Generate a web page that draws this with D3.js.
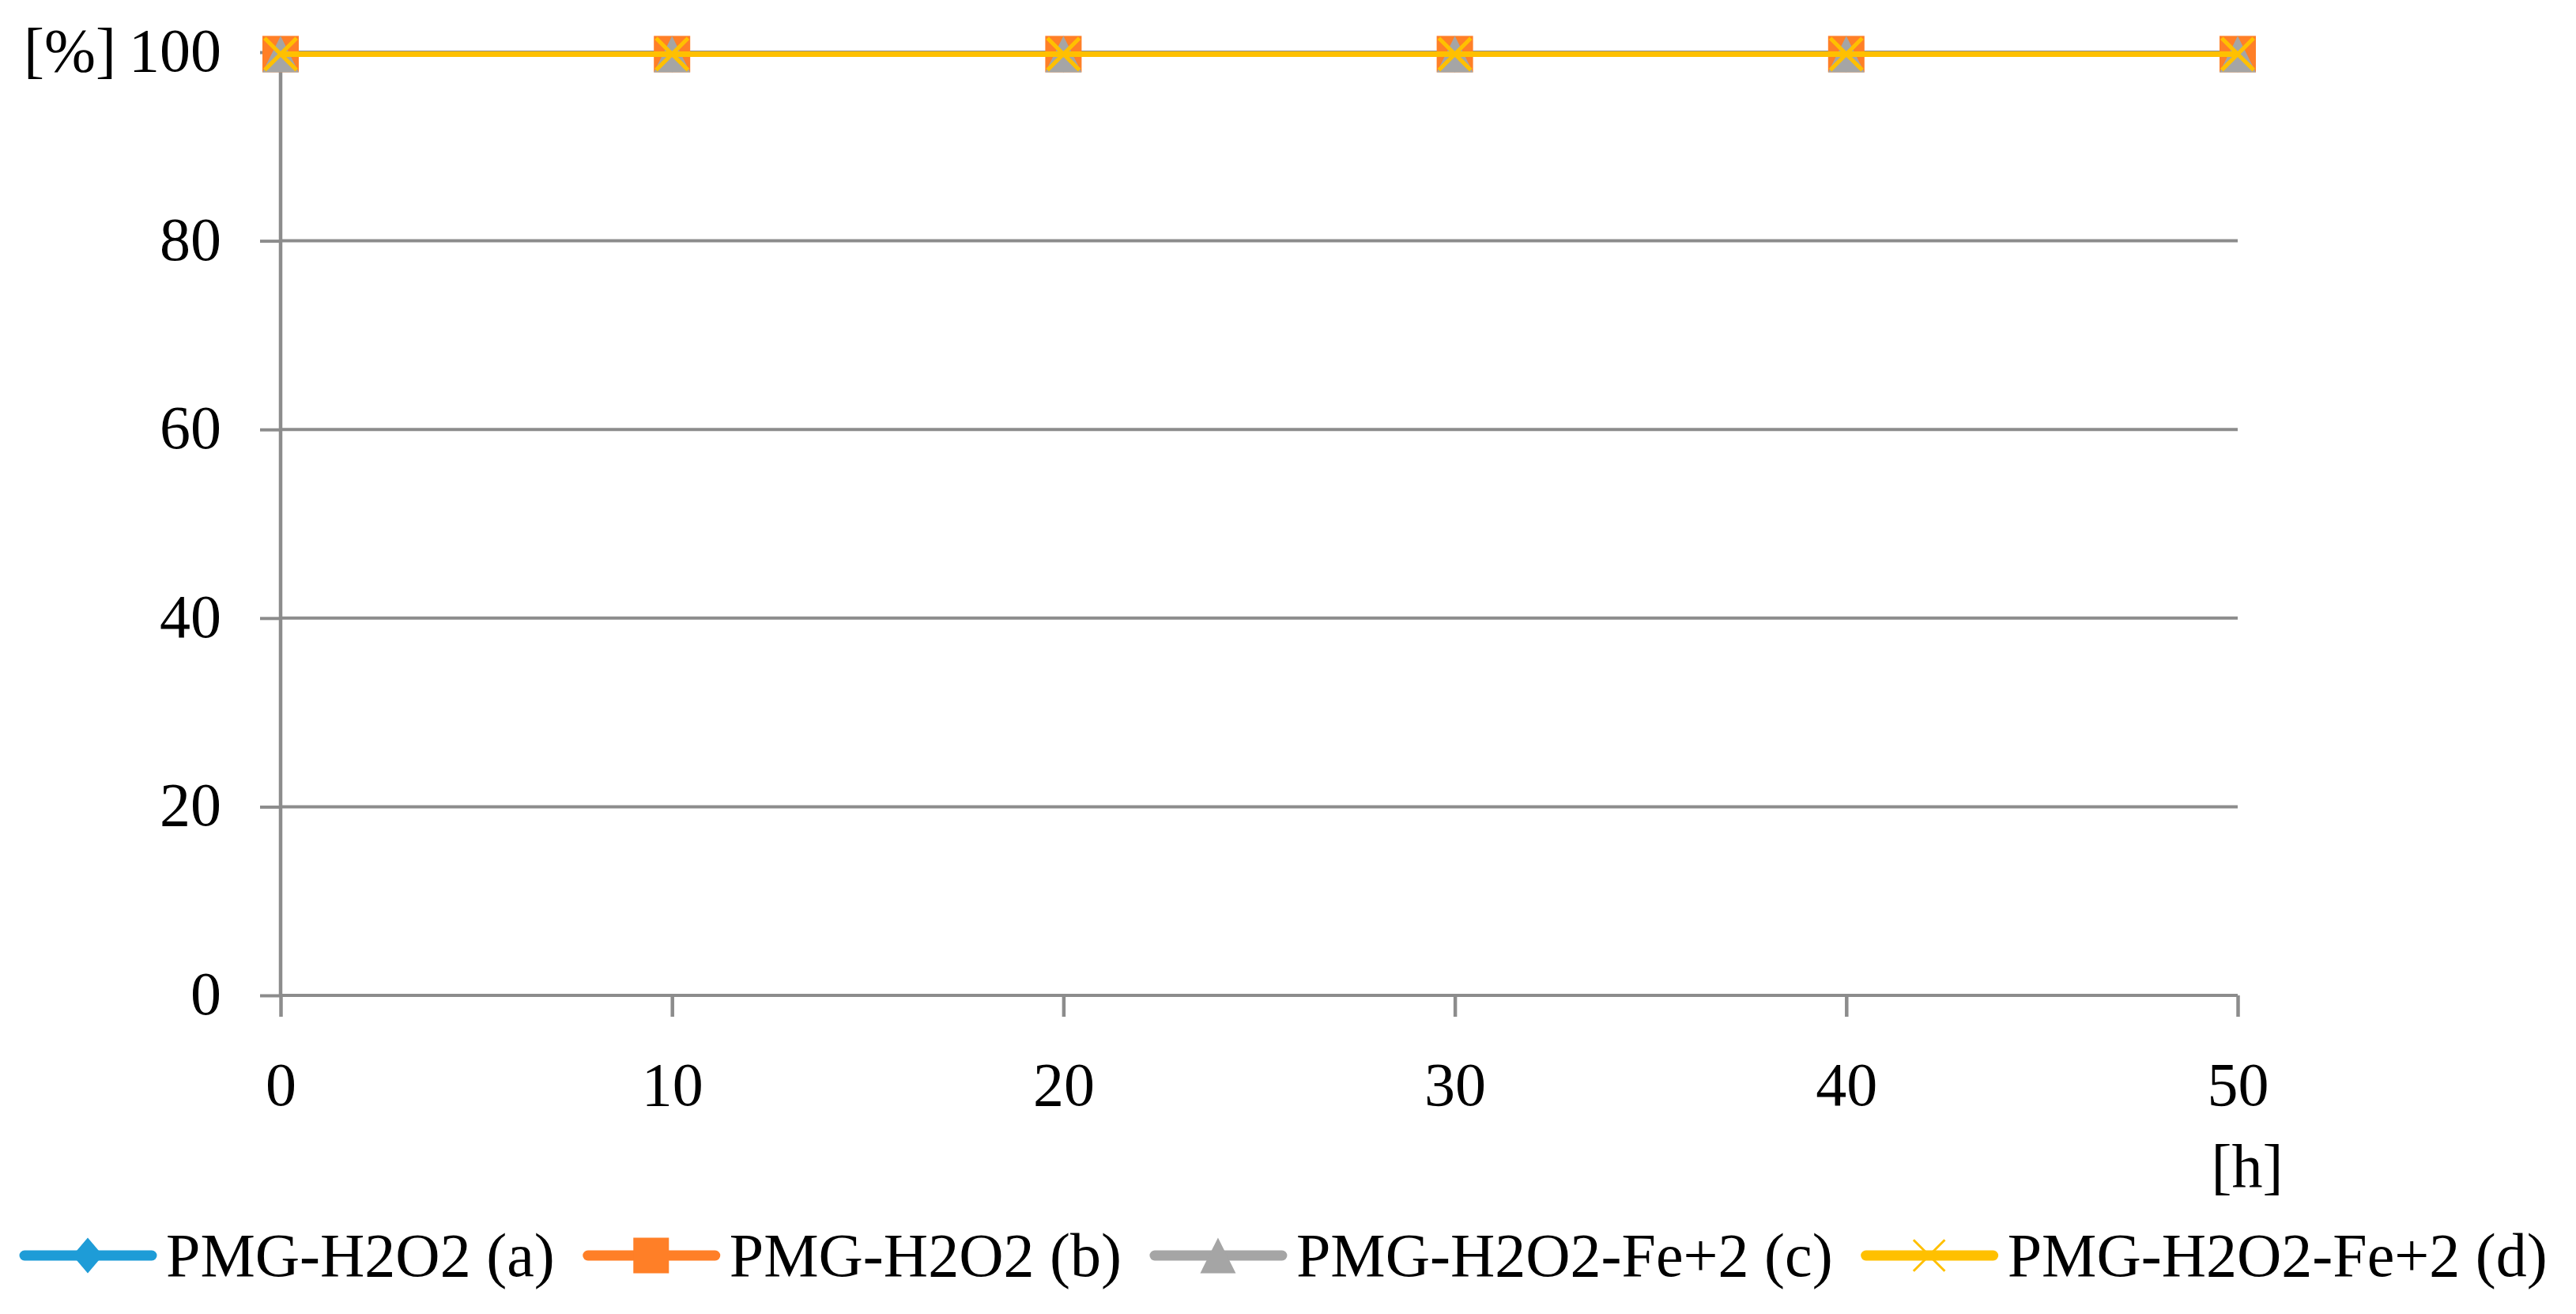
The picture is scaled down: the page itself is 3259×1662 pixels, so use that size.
<!DOCTYPE html>
<html><head><meta charset="utf-8">
<script src="https://cdn.jsdelivr.net/npm/d3@7/dist/d3.min.js"></script>
<style>
body{margin:0;background:#fff}
svg{display:block}
text{font-family:"Liberation Serif","Times New Roman",serif;fill:#000}
</style>
</head><body>
<svg id="c" width="3259" height="1662"></svg>
<script>
// ---- data ----
const hours = [0, 10, 20, 30, 40, 50];
const seriesNames = ["PMG-H2O2 (a)", "PMG-H2O2 (b)", "PMG-H2O2-Fe+2 (c)", "PMG-H2O2-Fe+2 (d)"];
const valuesA = [99.8, 99.8, 99.8, 99.8, 99.8, 99.8];
const valuesB = [99.8, 99.8, 99.8, 99.8, 99.8, 99.8];
const valuesC = [99.8, 99.8, 99.8, 99.8, 99.8, 99.8];
const valuesD = [99.8, 99.8, 99.8, 99.8, 99.8, 99.8];
const xTickValues = [0, 10, 20, 30, 40, 50];
const yTickValues = [0, 20, 40, 60, 80, 100];
const xTitle = "[h]";
const yTitle = "[%]";

// ---- style ----
const colors = ["#1E9CD7", "#FF7F27", "#A5A5A5", "#FFC000"];
const markerTypes = ["diamond", "square", "triangle", "x"];
const FS = 78;
const axisColor = "#8C8C8C";

const svg = d3.select("#c");
const pL = 355, pR = 2831, pT = 66, pB = 1259;
const x = d3.scaleLinear().domain([0, 50]).range([pL, pR]);
const y = d3.scaleLinear().domain([0, 100]).range([pB, pT]);

// grid lines
const grid = svg.append("g");
grid.selectAll("line").data(yTickValues).join("line")
  .attr("x1", pL).attr("x2", pR)
  .attr("y1", d => y(d)).attr("y2", d => y(d))
  .attr("stroke", axisColor).attr("stroke-width", 4);

// y axis
const yAxis = d3.axisLeft(y).tickValues(yTickValues).tickSize(26).tickPadding(49).tickFormat(d3.format("d"));
const gy = svg.append("g").attr("transform", `translate(${pL},0)`).call(yAxis);
gy.select(".domain").attr("stroke", axisColor).attr("stroke-width", 4.5).attr("d", `M0,${pT}V${pB}`);
gy.selectAll(".tick line").attr("stroke", axisColor).attr("stroke-width", 4);
gy.selectAll(".tick text").attr("font-size", FS).attr("font-family", "Liberation Serif").attr("fill", "#000").attr("dy", "0.30em");

// x axis
const xAxis = d3.axisBottom(x).tickValues(xTickValues).tickSize(27).tickPadding(57).tickFormat(d3.format("d"));
const gx = svg.append("g").attr("transform", `translate(0,${pB})`).call(xAxis);
gx.select(".domain").attr("stroke", axisColor).attr("stroke-width", 4).attr("d", `M${pL},0H${pR}`);
gx.selectAll(".tick line").attr("stroke", axisColor).attr("stroke-width", 4.5);
gx.selectAll(".tick text").attr("font-size", FS).attr("font-family", "Liberation Serif").attr("fill", "#000");

// titles
svg.append("text").attr("x", 30).attr("y", y(100) + 24).attr("font-size", FS).text(yTitle);
svg.append("text").attr("x", 2843).attr("y", 1502).attr("text-anchor", "middle").attr("font-size", FS).text(xTitle);

// marker drawing
function drawMarker(g, type, cx, cy, color, s, thin) {
  const h = s / 2;
  if (type === "diamond") {
    g.append("path").attr("d", `M${cx},${cy - h}L${cx + h * 0.85},${cy}L${cx},${cy + h}L${cx - h * 0.85},${cy}Z`).attr("fill", color);
  } else if (type === "square") {
    g.append("rect").attr("x", cx - h).attr("y", cy - h).attr("width", s).attr("height", s).attr("fill", color);
  } else if (type === "triangle") {
    g.append("path").attr("d", `M${cx},${cy - h}L${cx + h},${cy + h}L${cx - h},${cy + h}Z`).attr("fill", color);
  } else if (type === "x") {
    const a = h * 0.88;
    g.append("path").attr("d", `M${cx - a},${cy - a}L${cx + a},${cy + a}M${cx + a},${cy - a}L${cx - a},${cy + a}`)
      .attr("stroke", color).attr("stroke-width", thin ? 3 : 5).attr("fill", "none");
  }
}

const allValues = [valuesA, valuesB, valuesC, valuesD];
const line = d3.line().x(d => x(d[0])).y(d => y(d[1]));
allValues.forEach((vals, i) => {
  const pts = hours.map((h, j) => [h, vals[j]]);
  const g = svg.append("g");
  g.append("path").attr("d", line(pts)).attr("fill", "none")
    .attr("stroke", colors[i]).attr("stroke-width", 7).attr("stroke-linejoin", "round");
  pts.forEach(p => drawMarker(g, markerTypes[i], x(p[0]), y(p[1]), colors[i], 46, false));
});

// legend
const legY = 1588;
let cur = 25;
const leg = svg.append("g");
seriesNames.forEach((name, i) => {
  const g = leg.append("g");
  g.append("line").attr("x1", cur + 6).attr("x2", cur + 167).attr("y1", legY).attr("y2", legY)
    .attr("stroke", colors[i]).attr("stroke-width", 13).attr("stroke-linecap", "round");
  drawMarker(g, markerTypes[i], cur + 86, legY, colors[i], 45, true);
  const t = g.append("text").attr("x", cur + 185).attr("y", legY + 26).attr("font-size", FS).text(name);
  const w = t.node().getComputedTextLength();
  cur = cur + 185 + w + 36;
});
</script>
</body></html>
